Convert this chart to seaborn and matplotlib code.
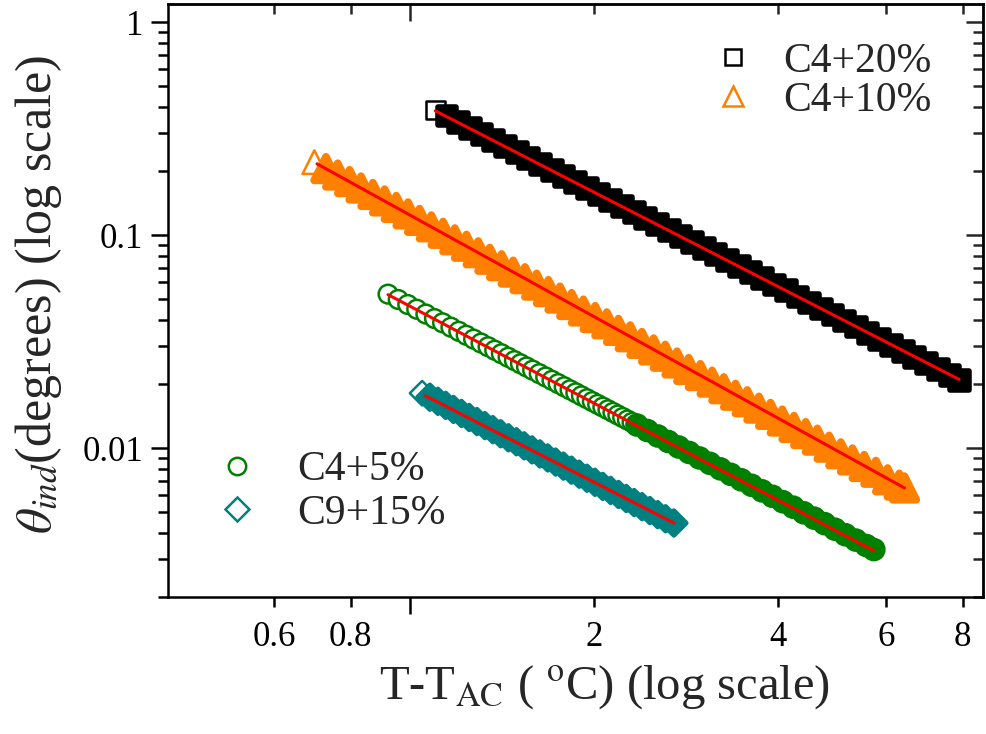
import matplotlib
matplotlib.use("Agg")
import matplotlib.pyplot as plt
import seaborn as sns
from matplotlib.lines import Line2D
from matplotlib.ticker import FixedLocator, NullFormatter, FuncFormatter, LogLocator

# ---------------- data ----------------
c4_20_T = [1.100, 1.150, 1.201, 1.255, 1.312, 1.371, 1.432, 1.497, 1.564, 1.635, 1.708, 1.785,
           1.866, 1.950, 2.037, 2.129, 2.225, 2.325, 2.429, 2.539, 2.653, 2.772, 2.897, 3.027,
           3.164, 3.306, 3.455, 3.610, 3.773, 3.943, 4.120, 4.306, 4.499, 4.702, 4.913, 5.134,
           5.365, 5.607, 5.859, 6.123, 6.398, 6.686, 6.987, 7.302, 7.630, 7.900]
c4_20_theta = [0.386, 0.3617, 0.3388, 0.3175, 0.2974, 0.2787, 0.2611, 0.2446, 0.2292, 0.2147,
               0.2012, 0.1885, 0.1766, 0.1655, 0.1550, 0.1452, 0.1361, 0.1275, 0.1195, 0.1119,
               0.1049, 0.0982, 0.0920, 0.0862, 0.0808, 0.0757, 0.0709, 0.0665, 0.0623, 0.0583,
               0.0547, 0.0512, 0.0480, 0.0450, 0.0421, 0.0395, 0.0370, 0.0346, 0.0324, 0.0304,
               0.0285, 0.0267, 0.0250, 0.0234, 0.0219, 0.0208]

c4_10_T = [0.698, 0.729, 0.762, 0.797, 0.832, 0.870, 0.909, 0.950, 0.993, 1.037, 1.084, 1.133,
           1.184, 1.237, 1.293, 1.351, 1.412, 1.475, 1.542, 1.611, 1.684, 1.759, 1.838, 1.921,
           2.008, 2.098, 2.192, 2.291, 2.394, 2.502, 2.614, 2.732, 2.855, 2.983, 3.118, 3.258,
           3.405, 3.558, 3.718, 3.885, 4.060, 4.243, 4.434, 4.633, 4.842, 5.060, 5.287, 5.525,
           5.774, 6.034, 6.305, 6.430]
c4_10_theta = [0.2200, 0.2051, 0.1913, 0.1783, 0.1663, 0.1551, 0.1446, 0.1348, 0.1257, 0.1172,
               0.1093, 0.1019, 0.0950, 0.0886, 0.0826, 0.0770, 0.0718, 0.0670, 0.0624, 0.0582,
               0.0543, 0.0506, 0.0472, 0.0440, 0.0410, 0.0383, 0.0357, 0.0333, 0.0310, 0.0289,
               0.0270, 0.0251, 0.0234, 0.0219, 0.0204, 0.0190, 0.0177, 0.0165, 0.0154, 0.0144,
               0.0134, 0.0125, 0.0117, 0.0109, 0.0101, 0.0094, 0.0088, 0.0082, 0.0077, 0.0071,
               0.0067, 0.0065]

c4_5_T = [0.921, 0.957, 0.992, 1.026, 1.062, 1.097, 1.131, 1.167, 1.202, 1.236, 1.271, 1.307,
          1.342, 1.376, 1.411, 1.447, 1.482, 1.516, 1.551, 1.587, 1.627, 1.667, 1.707, 1.747,
          1.787, 1.827, 1.867, 1.907, 1.947, 1.987, 2.027, 2.067, 2.107, 2.147, 2.187, 2.227,
          2.267, 2.307, 2.350, 2.444, 2.542, 2.643, 2.749, 2.859, 2.973, 3.092, 3.216, 3.344,
          3.478, 3.617, 3.762, 3.912, 4.069, 4.231, 4.401, 4.577, 4.760, 4.950, 5.148, 5.354,
          5.568, 5.730]
c4_5_theta = [0.0528, 0.04983, 0.04720, 0.04486, 0.04258, 0.04055, 0.03872, 0.03693, 0.03532,
              0.03386, 0.03246, 0.03112, 0.02991, 0.02880, 0.02773, 0.02669, 0.02574, 0.02488,
              0.02403, 0.02322, 0.02236, 0.02156, 0.02080, 0.02008, 0.01941, 0.01877, 0.01817,
              0.01759, 0.01705, 0.01653, 0.01604, 0.01558, 0.01513, 0.01471, 0.01430, 0.01392,
              0.01355, 0.01320, 0.01283, 0.01209, 0.01140, 0.01074, 0.01012, 0.00954, 0.00899,
              0.00848, 0.00799, 0.00753, 0.00710, 0.00669, 0.00630, 0.00594, 0.00560, 0.00528,
              0.00497, 0.00469, 0.00442, 0.00416, 0.00392, 0.00370, 0.00349, 0.00334]

c9_15_T = [1.047, 1.078, 1.111, 1.144, 1.178, 1.214, 1.250, 1.287, 1.326, 1.366, 1.407, 1.449,
           1.493, 1.537, 1.583, 1.631, 1.680, 1.730, 1.782, 1.836, 1.891, 1.947, 2.006, 2.066,
           2.128, 2.192, 2.257, 2.325, 2.395, 2.467, 2.541, 2.617, 2.700]
c9_15_theta = [0.01810, 0.01733, 0.01658, 0.01587, 0.01519, 0.01454, 0.01392, 0.01332, 0.01275,
               0.01221, 0.01168, 0.01118, 0.01071, 0.01025, 0.00981, 0.00939, 0.00899, 0.00860,
               0.00823, 0.00788, 0.00754, 0.00722, 0.00691, 0.00661, 0.00633, 0.00606, 0.00580,
               0.00555, 0.00531, 0.00509, 0.00487, 0.00466, 0.00445]

# power-law fit lines (end points)
fit_c4_20_T, fit_c4_20_theta = [1.10, 7.90], [0.383, 0.0210]
fit_c4_10_T, fit_c4_10_theta = [0.705, 6.43], [0.216, 0.0065]
fit_c4_5_T, fit_c4_5_theta = [0.921, 5.73], [0.0525, 0.00330]
fit_c9_15_T, fit_c9_15_theta = [1.06, 2.70], [0.0176, 0.00445]

labels = ["C4+20%", "C4+10%", "C4+5%", "C9+15%"]
x_tick_values = [0.6, 0.8, 2, 4, 6, 8]

# ---------------- style ----------------
sns.set_theme(style="ticks")
plt.rcParams['font.family'] = ['Liberation Serif', 'DejaVu Serif']
plt.rcParams['mathtext.fontset'] = 'stix'

BLACK, ORANGE, GREEN, TEAL, RED = "#000000", "#FF8000", "#008000", "#008080", "#FF0000"
EW = 1.8

fig = plt.figure(figsize=(9.87, 7.34), dpi=100)
ax = fig.add_axes([168 / 987, 1 - 597 / 734, (983 - 168) / 987, (597 - 4) / 734])
ax.set_xscale('log')
ax.set_yscale('log')


def faces(color, n, n_open):
    return ['white'] * n_open + [color] * (n - n_open)


def widths(n, n_open, thick):
    return [EW] * n_open + [thick] * (n - n_open)


series = [
    (c4_20_T, c4_20_theta, 's', 13.5, BLACK, 1, 4.0),
    (c4_10_T, c4_10_theta, '^', 17.0, ORANGE, 1, 5.5),
    (c4_5_T, c4_5_theta, 'o', 13.5, GREEN, 38, 3.5),
    (c9_15_T, c9_15_theta, 'D', 12.5, TEAL, 1, 3.5),
]
for xs, ys, mk, ms, col, n_open, thick in series:
    sns.scatterplot(x=xs, y=ys, marker=mk, s=ms ** 2, color=col, edgecolor=col,
                    facecolors=faces(col, len(xs), n_open),
                    linewidth=widths(len(xs), n_open, thick),
                    ax=ax, legend=False, zorder=2)

for fx, fy in [(fit_c4_20_T, fit_c4_20_theta), (fit_c4_10_T, fit_c4_10_theta),
               (fit_c4_5_T, fit_c4_5_theta), (fit_c9_15_T, fit_c9_15_theta)]:
    sns.lineplot(x=fx, y=fy, color=RED, linewidth=2.2, ax=ax, legend=False,
                 sort=False, estimator=None, zorder=3)

ax.set_xlim(0.4024, 8.64)
ax.set_ylim(0.0020, 1.215)

# x ticks: long unlabeled tick at 1, labelled short ticks
ax.xaxis.set_major_locator(FixedLocator([1]))
ax.xaxis.set_major_formatter(NullFormatter())
ax.xaxis.set_minor_locator(FixedLocator(x_tick_values))
ax.xaxis.set_minor_formatter(FuncFormatter(lambda v, p: f"{v:g}"))
# y ticks
ax.yaxis.set_major_locator(LogLocator(base=10))
ax.yaxis.set_major_formatter(FuncFormatter(lambda v, p: f"{v:g}"))
ax.yaxis.set_minor_locator(LogLocator(base=10, subs=range(2, 10)))
ax.yaxis.set_minor_formatter(NullFormatter())

TICK_FS = 25
ax.tick_params(axis='both', which='both', direction='out', width=EW, colors='black',
               labelsize=TICK_FS)
ax.tick_params(axis='x', which='major', length=12, pad=6)
ax.tick_params(axis='x', which='minor', length=7, pad=10)
ax.tick_params(axis='y', which='major', length=12, pad=6)
ax.tick_params(axis='y', which='minor', length=7)
for sp in ax.spines.values():
    sp.set_linewidth(EW)
    sp.set_color('black')

secx = ax.secondary_xaxis('top')
secx.xaxis.set_major_locator(FixedLocator([1]))
secx.xaxis.set_minor_locator(FixedLocator(x_tick_values))
secx.xaxis.set_major_formatter(NullFormatter())
secx.xaxis.set_minor_formatter(NullFormatter())
secx.tick_params(axis='x', which='both', direction='in', width=EW, labeltop=False)
secx.tick_params(axis='x', which='major', length=12)
secx.tick_params(axis='x', which='minor', length=7)
secx.spines['top'].set_linewidth(EW)

secy = ax.secondary_yaxis('right')
secy.yaxis.set_major_locator(LogLocator(base=10))
secy.yaxis.set_minor_locator(LogLocator(base=10, subs=range(2, 10)))
secy.yaxis.set_major_formatter(NullFormatter())
secy.yaxis.set_minor_formatter(NullFormatter())
secy.tick_params(axis='y', which='both', direction='in', width=EW, labelright=False)
secy.tick_params(axis='y', which='major', length=12)
secy.tick_params(axis='y', which='minor', length=7)
secy.spines['right'].set_linewidth(EW)

ax.set_xlabel(r"T-T$_{\mathrm{AC}}$ ( $^{\mathrm{o}}$C) (log scale)", fontsize=35)
ax.xaxis.set_label_coords(0.536, -0.112)
ax.set_ylabel(r"$\theta_{ind}$(degrees) (log scale)", fontsize=36)
ax.yaxis.set_label_coords(-0.128, 0.51)


def handle(mk, ms, col):
    return Line2D([], [], marker=mk, linestyle='none', markersize=ms, markerfacecolor='white',
                  markeredgecolor=col, markeredgewidth=EW)


LEG_FS = 30
leg1 = ax.legend([handle('s', 12, BLACK), handle('^', 14, ORANGE)], labels[:2],
                 loc='upper left', bbox_to_anchor=(712 / 987, 1 - 42 / 734),
                 bbox_transform=fig.transFigure, frameon=False, fontsize=LEG_FS,
                 handlelength=1.0, handletextpad=0.7, labelspacing=0.02,
                 borderpad=0, borderaxespad=0)
ax.add_artist(leg1)
ax.legend([handle('o', 12.5, GREEN), handle('D', 12, TEAL)], labels[2:],
          loc='upper left', bbox_to_anchor=(216 / 987, 1 - 451 / 734),
          bbox_transform=fig.transFigure, frameon=False, fontsize=LEG_FS,
          handlelength=1.0, handletextpad=0.95, labelspacing=0.12,
          borderpad=0, borderaxespad=0)

fig.savefig("out.png", dpi=100)
